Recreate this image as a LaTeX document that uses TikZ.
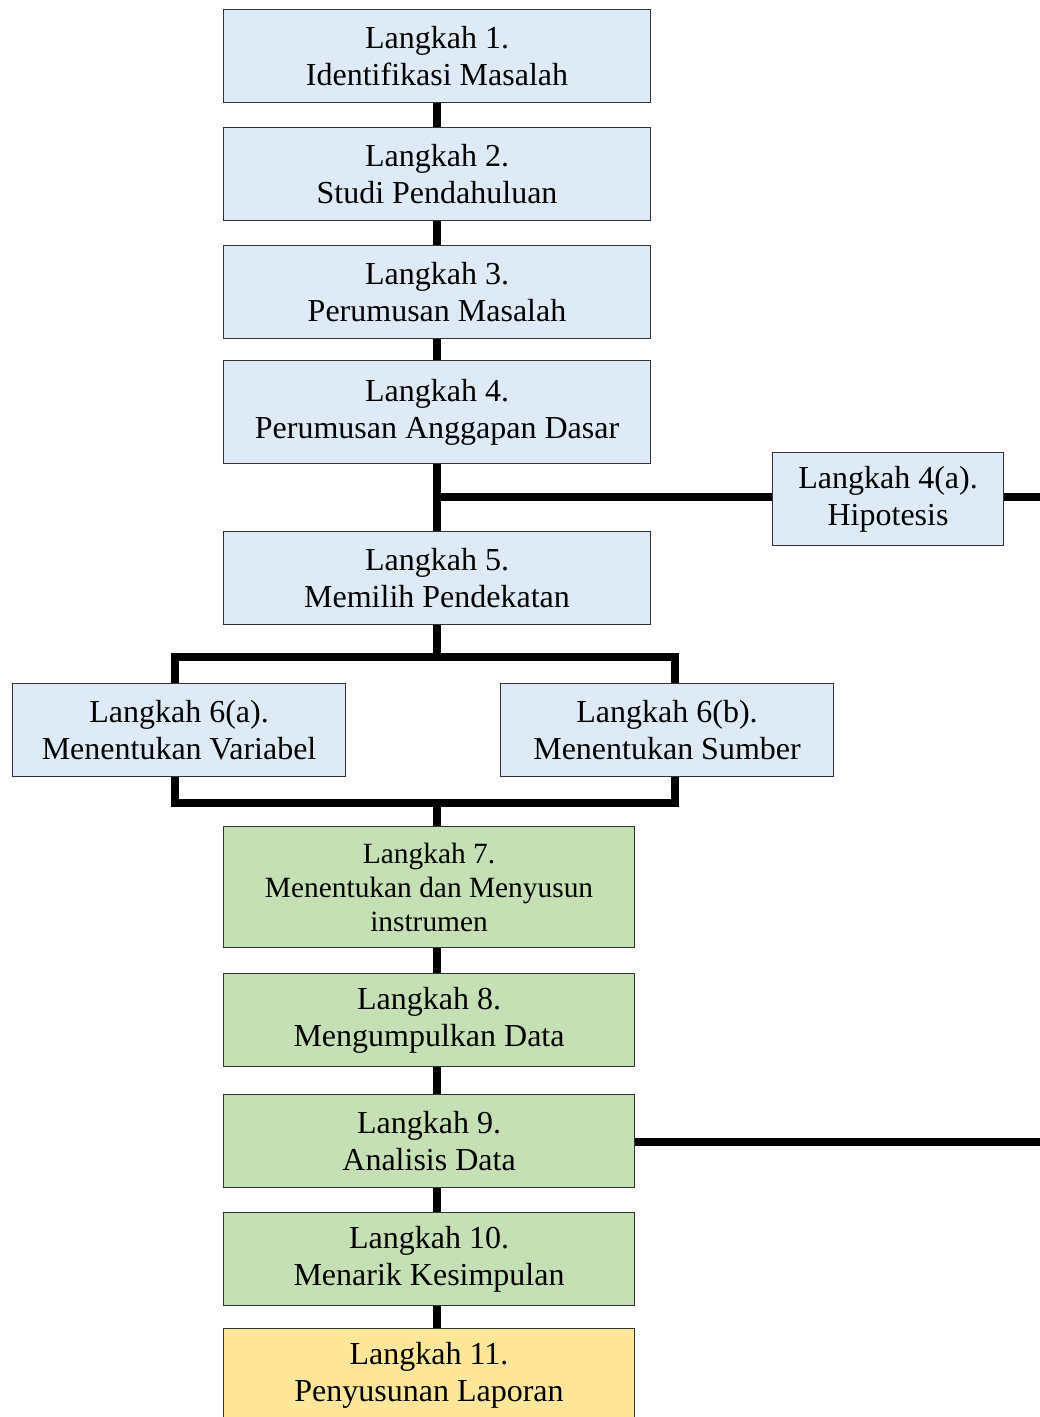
\documentclass[tikz,border=0pt]{standalone}
\usepackage{fontspec}
\setmainfont{Liberation Serif}
\definecolor{boxblue}{HTML}{DEEBF7}
\definecolor{boxgreen}{HTML}{C5E0B4}
\definecolor{boxyellow}{HTML}{FFE699}
\definecolor{boxline}{HTML}{333333}
\begin{document}
\begin{tikzpicture}[x=1pt,y=-1pt,
  box/.style={draw=boxline, line width=1.1pt, align=center, inner sep=0pt, anchor=north west, font=\fontsize{32}{37}\selectfont},
  bluebox/.style={box, fill=boxblue, minimum height=93pt},
  greenbox/.style={box, fill=boxgreen, minimum height=93pt, minimum width=411pt},
  link/.style={line width=7.5pt}]
\useasboundingbox (0,0) rectangle (1040,1417);
\node[bluebox, minimum width=427pt] (s1) at (223,9) {Langkah 1.\\Identifikasi Masalah};
\node[bluebox, minimum width=427pt] (s2) at (223,127) {Langkah 2.\\Studi Pendahuluan};
\node[bluebox, minimum width=427pt] (s3) at (223,245) {Langkah 3.\\Perumusan Masalah};
\node[bluebox, minimum width=427pt, minimum height=103pt] (s4) at (223,360) {Langkah 4.\\Perumusan Anggapan Dasar};
\node[bluebox, minimum width=231pt] (s4a) at (772,452) {Langkah 4(a).\\Hipotesis};
\node[bluebox, minimum width=427pt] (s5) at (223,531) {Langkah 5.\\Memilih Pendekatan};
\node[bluebox, minimum width=333pt] (s6a) at (12,683) {Langkah 6(a).\\Menentukan Variabel};
\node[bluebox, minimum width=333pt] (s6b) at (500,683) {Langkah 6(b).\\Menentukan Sumber};
\node[greenbox, minimum height=121pt, font=\fontsize{29.4}{34}\selectfont] (s7) at (223,826) {Langkah 7.\\Menentukan dan Menyusun\\instrumen};
\node[greenbox] (s8) at (223,973) {Langkah 8.\\Mengumpulkan Data};
\node[greenbox] (s9) at (223,1094) {Langkah 9.\\Analisis Data};
\node[greenbox] (s10) at (223,1212) {Langkah 10.\\Menarik Kesimpulan};
\node[box, fill=boxyellow, minimum width=411pt, minimum height=93pt] (s11) at (223,1328) {Langkah 11.\\Penyusunan Laporan};
% coordinates
\coordinate (spine) at (437,0);
\coordinate (ta) at (175,657);
\coordinate (tb) at (675,657);
\coordinate (ba) at (175,803);
\coordinate (bb) at (675,803);
\coordinate (e1) at (1045,497);
\coordinate (e2) at (1045,1142);
% connectors
\draw[link] (spine |- s1.south) -- (spine |- s2.north);
\draw[link] (spine |- s2.south) -- (spine |- s3.north);
\draw[link] (spine |- s3.south) -- (spine |- s4.north);
\draw[link] (spine |- s4.south) -- (spine |- s5.north);
\draw[link] (spine |- e1) -- (s4a.west |- e1);
\draw[link] (s4a.east |- e1) -- (e1);
\draw[link] (spine |- s5.south) -- (spine |- ta);
\draw[link] (s6a.north -| ta) -- (ta) -- (tb) -- (s6b.north -| tb);
\draw[link] (s6a.south -| ba) -- (ba) -- (bb) -- (s6b.south -| bb);
\draw[link] (spine |- ba) -- (spine |- s7.north);
\draw[link] (spine |- s7.south) -- (spine |- s8.north);
\draw[link] (spine |- s8.south) -- (spine |- s9.north);
\draw[link] (spine |- s9.south) -- (spine |- s10.north);
\draw[link] (spine |- s10.south) -- (spine |- s11.north);
\draw[link] (s9.east |- e2) -- (e2);
\end{tikzpicture}
\end{document}
